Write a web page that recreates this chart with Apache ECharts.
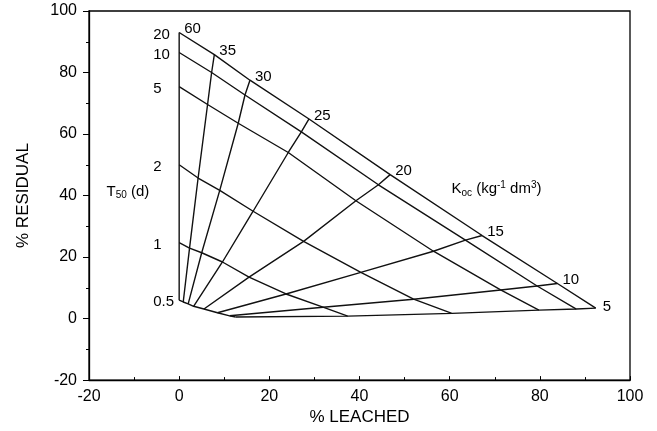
<!DOCTYPE html>
<html><head><meta charset="utf-8">
<script src="https://cdn.jsdelivr.net/npm/echarts@6/dist/echarts.min.js"></script>
<style>html,body{margin:0;padding:0;background:#fff}#c{width:657px;height:431px}</style>
</head><body><div id="c"></div>
<script>
// Koc levels (order along each T50 curve) and T50 levels
const kocLevels = ['60', '35', '30', '25', '20', '15', '10', '5'];
const t50Levels = ['0.5', '1', '2', '5', '10', '20'];
// axis ranges / ticks
const xRange = [-20, 100];
const yRange = [-20, 100];
const tickStep = 20;

// [% leached, % residual] at each Koc level (60 ... 5) for a given T50
const t05 = [[0, 6.0], [0.9, 5.4], [2.0, 4.8], [3.2, 4.0], [5.5, 3.1], [8.5, 1.9], [11.2, 0.9], [12.5, 0.5]];
const t1  = [[0, 24.7], [2.3, 22.9], [5.0, 21.4], [9.6, 18.4], [15.5, 13.5], [23.7, 8.0], [31.9, 3.7], [37.4, 0.8]];
const t2  = [[0, 50.0], [4.2, 45.7], [9.0, 41.7], [16.4, 34.9], [27.6, 25.1], [40.3, 15.0], [52.0, 6.3], [60.5, 1.7]];
const t5  = [[0, 75.4], [6.3, 69.6], [13.1, 63.5], [24.2, 54.0], [39.2, 38.3], [56.4, 21.9], [71.3, 9.3], [79.8, 2.75]];
const t10 = [[0, 86.5], [7.2, 80.0], [14.6, 72.7], [27.1, 60.7], [44.2, 43.5], [63.5, 25.5], [79.4, 10.6], [88.1, 3.1]];
const t20 = [[0, 93.0], [7.8, 85.8], [15.7, 77.5], [28.8, 64.9], [46.8, 46.8], [67.2, 27.0], [83.9, 11.4], [92.4, 3.4]];

const t50Curves = [t05, t1, t2, t5, t10, t20];

const FONT = 'Liberation Sans, Arial, sans-serif';
const INK = '#000000';
const lineBase = {
  type: 'line', showSymbol: false, symbol: 'none', silent: true, animation: false,
  lineStyle: { color: '#111111', width: 1.4 }, z: 3
};

const series = [];
t50Curves.forEach(function (pts) {
  series.push(Object.assign({}, lineBase, { data: pts }));
});
kocLevels.forEach(function (k, j) {
  series.push(Object.assign({}, lineBase, { data: t50Curves.map(function (c) { return c[j]; }) }));
});

const labelSeriesBase = {
  type: 'scatter', silent: true, animation: false, symbolSize: 0,
  itemStyle: { color: INK, opacity: 1 }, z: 5
};

// T50 labels at the start of each T50 curve
series.push(Object.assign({}, labelSeriesBase, {
  label: { show: true, position: 'left', distance: 0, align: 'left', offset: [-26, 2],
           fontFamily: FONT, fontSize: 15, color: INK, opacity: 1 },
  data: t50Curves.map(function (c, i) { return { value: c[0], label: { formatter: t50Levels[i] } }; })
}));
// Koc labels at the ends on the T50 = 20 curve
series.push(Object.assign({}, labelSeriesBase, {
  label: { show: true, position: 'right', distance: 5, offset: [0, -3.5],
           fontFamily: FONT, fontSize: 15, color: INK, opacity: 1 },
  data: kocLevels.map(function (k, j) {
    const item = { value: t20[j], label: { formatter: k } };
    if (j === kocLevels.length - 1) item.label.offset = [2, -1.5];
    return item;
  })
}));
// Group titles
const rich = {
  a: { fontFamily: FONT, fontSize: 15, color: INK, lineHeight: 18 },
  s: { fontFamily: FONT, fontSize: 10, color: INK, lineHeight: 10, verticalAlign: 'bottom' },
  p: { fontFamily: FONT, fontSize: 10, color: INK, lineHeight: 10, verticalAlign: 'top' }
};
series.push(Object.assign({}, labelSeriesBase, {
  label: { show: true, position: 'right', distance: 0, rich: rich, opacity: 1 },
  data: [
    { value: [-16.1, 41.3], label: { formatter: '{a|T}{s|50}{a| (d)}' } },
    { value: [60.4, 42.2], label: { formatter: '{a|K}{s|oc}{a| (kg}{p|-1}{a| dm}{p|3}{a|)}' } }
  ]
}));

const axisCommon = {
  type: 'value', interval: tickStep, nameLocation: 'middle',
  axisLine: { show: true, onZero: false, lineStyle: { color: INK, width: 1.3 } },
  splitLine: { show: false },
  minorTick: { show: true, splitNumber: 2, length: 3, lineStyle: { color: INK, width: 1 } },
  minorSplitLine: { show: false },
  axisLabel: { fontFamily: FONT, fontSize: 16, color: INK },
  nameTextStyle: { fontFamily: FONT, fontSize: 17, color: INK }
};

const chart = echarts.init(document.getElementById('c'), null, { renderer: 'canvas' });
chart.setOption({
  backgroundColor: '#ffffff',
  animation: false,
  grid: { left: 89, right: 27, top: 11, bottom: 49, show: true, borderColor: INK, borderWidth: 1.3, backgroundColor: 'transparent' },
  xAxis: Object.assign({}, axisCommon, {
    min: xRange[0], max: xRange[1], name: '% LEACHED', nameGap: 21,
    axisTick: { show: true, inside: true, length: 4, lineStyle: { color: INK, width: 1 } },
    minorTick: { show: true, splitNumber: 2, length: 3, lineStyle: { color: INK, width: 1 } },
    axisLabel: { fontFamily: FONT, fontSize: 16, color: INK, margin: 8 }
  }),
  yAxis: Object.assign({}, axisCommon, {
    min: yRange[0], max: yRange[1], name: '% RESIDUAL', nameGap: 57,
    axisTick: { show: true, inside: false, length: 6, lineStyle: { color: INK, width: 1 } },
    axisLabel: { fontFamily: FONT, fontSize: 16, color: INK, margin: 12 }
  }),
  series: series
});
</script>
</body></html>
